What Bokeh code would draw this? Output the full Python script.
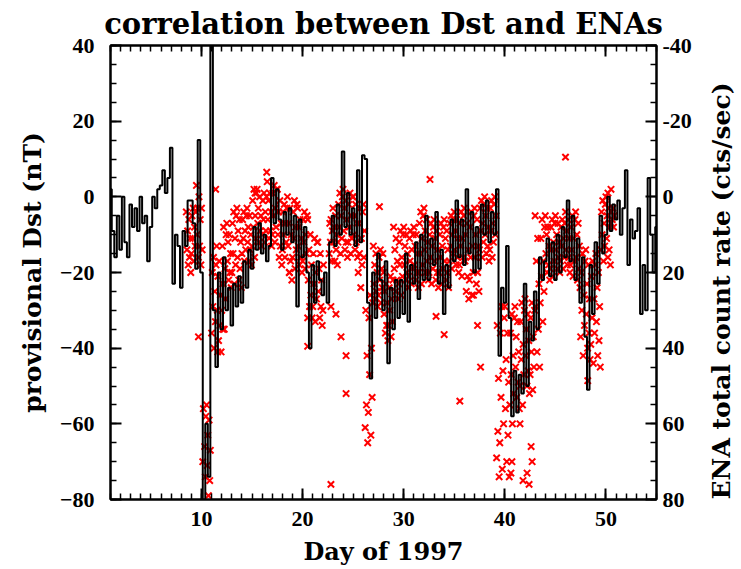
import math
from bokeh.plotting import figure
from bokeh.models import Range1d, LinearAxis, SingleIntervalTicker
from bokeh.embed import file_html
from bokeh.resources import INLINE

# provisional Dst (nT), sampled every 0.25 day starting at day 1.0
dst_start = 1.0
dst_step = 0.25
dst = [
    2, -9, -16, -5,
    -14, 0, -12, -16,
    -2, -8, -3, -9,
    0, -7, -5, -17,
    -8, 0, -3, 2,
    3, 7, 1, 5,
    13, -23, -10, -13,
    -24, -9, -13, -1,
    -1, -7, -19, 15,
    -20, -82, -60, -74,
    45, -30, -45, -20,
    -35, -16, -30, -24,
    -34, -23, -29, -21,
    -28, -17, -24, -14,
    -19, -8, -14, -7,
    -15, -10, -17, -13,
    5, -7, 2, -6,
    -14, -4, -10, -3,
    -12, -5, -29, -6,
    -16, -8, -20, -40,
    -18, -28, -17, -22,
    -26, -20, -28, -12,
    -5, -13, -2, -10,
    12, -8, 1, -10,
    -3, -13, 7, -12,
    11, 10, -28, -48,
    -20, -32, -15, -22,
    -30, -17, -44, -24,
    -35, -22, -32, -22,
    -31, -15, -33, -18,
    -23, -12, -27, -10,
    -22, -5, -22, -11,
    -18, -4, -23, -14,
    -31, -18, -24, -6,
    -17, -1, -16, -6,
    -18, 2, -15, -4,
    -20, -8, -19, -2,
    -10, -1, -12, -4,
    -10, 2, -42, -24,
    -28, -13, -32, -58,
    -46, -57, -47, -52,
    -23, -50, -33, -38,
    -25, -35, -16, -22,
    -17, -11, -21, -12,
    -22, -10, -20, -8,
    -16, -1, -17, -5,
    -22, -11, -28, -16,
    -37, -51, -18, -31,
    -12, -23, -5, -15,
    -10, 0, -9, -2,
    -6, -1, -10, -3,
    7, -18, -6, -11,
    -9, -3, -31, -18,
    -30, 5, -10, -20,
    -8,
]
dst_day = [dst_start + dst_step * i for i in range(len(dst))]

# ENA total count rate (cts/sec), sampled every 1/16 day starting at day 8.5
nan = float("nan")
ena_start = 8.5
ena_step = 0.0625
ena = [
    4, 14, 9, 18, 6, 16, 11, 20,                 # 8.5
    15, 5, 11, 3, 17, 8, 13, 4,                  # 9.0
    -3, 10, 3, 16, 0, 13, 6, 18,                 # 9.5
    3, 14, 70, 56, 81, 66, 74, 58,               # 10.0
    55, 71, 63, 79, 59, 75, 67, 82,              # 10.5
    36, 20, 29, 16, 40, 25, 33, 18,              # 11.0
    13, 30, 21, 38, 17, 34, 26, 41,              # 11.5
    30, 13, 23, 8, 35, 19, 27, 10,               # 12.0
    7, 17, 12, 22, 10, 20, 15, 24,               # 12.5
    20, 7, 15, 4, 23, 11, 18, 5,                 # 13.0
    3, 16, 9, 22, 6, 19, 12, 24,                 # 13.5
    15, 6, 11, 4, 17, 9, 14, 5,                  # 14.0
    3, 12, 8, 17, 5, 14, 10, 18,                 # 14.5
    13, 1, 8, -2, 16, 5, 11, -1,                 # 15.0
    -2, 7, 3, 12, 0, 9, 5, 13,                   # 15.5
    10, 1, 6, -1, 12, 4, 9, 0,                   # 16.0
    -4, 6, 1, 11, -1, 9, 4, 13,                  # 16.5
    10, -1, 5, -3, 12, 3, 8, -2,                 # 17.0
    -2, 10, 4, 16, 1, 13, 7, 18,                 # 17.5
    14, 4, 10, 2, 16, 7, 12, 3,                  # 18.0
    0, 13, 7, 20, 3, 17, 10, 22,                 # 18.5
    16, 4, 11, 1, 19, 8, 14, 2,                  # 19.0
    3, 13, 8, 18, 6, 16, 11, 20,                 # 19.5
    17, 6, 12, 4, 19, 10, 15, 5,                 # 20.0
    6, 22, 14, 29, 10, 26, 18, 32,               # 20.5
    29, 15, 23, 11, 33, 20, 27, 12,              # 21.0
    12, 25, 19, 32, 15, 29, 22, 34,              # 21.5
    30, 18, nan, nan, nan, nan, nan, nan,        # 22.0
    nan, nan, 15, 7, 12, 6, 17, 9,               # 22.5
    3, 12, 8, 17, 5, 14, 10, 18,                 # 23.0
    12, 2, 8, -1, 15, 5, 11, 0,                  # 23.5
    -2, 9, 3, 14, 1, 12, 6, 16,                  # 24.0
    12, 2, 8, -1, 15, 5, 11, 0,                  # 24.5
    0, 10, 5, 14, 2, 12, 7, 16,                  # 25.0
    20, 7, 15, 3, 24, 11, 18, 4,                 # 25.5
    2, 16, 9, 61, 30, 55, 42, 65,                # 26.0
    57, 32, 47, 26, 63, 40, 53, 28,              # 26.5
    13, 23, 18, 27, 15, 25, 20, 29,              # 27.0
    26, 16, 22, 14, 28, 19, 24, 15,              # 27.5
    20, 31, 25, 36, 23, 34, 28, 38,              # 28.0
    34, 24, 30, 21, 37, 27, 33, 22,              # 28.5
    8, 19, 14, 25, 11, 22, 17, 27,               # 29.0
    23, 12, 18, 9, 26, 16, 21, 10,               # 29.5
    8, 18, 13, 22, 10, 20, 15, 24,               # 30.0
    21, 11, 17, 9, 23, 14, 19, 10,               # 30.5
    8, 18, 13, 22, 10, 20, 15, 24,               # 31.0
    20, 7, 15, 4, 23, 11, 18, 5,                 # 31.5
    3, 14, 9, 20, 6, 17, 12, 22,                 # 32.0
    20, 10, 16, 7, 23, 13, 19, 8,                # 32.5
    6, 17, 11, 22, 9, 20, 14, 24,                # 33.0
    20, 10, 16, 7, 23, 13, 19, 8,                # 33.5
    6, 17, 11, 22, 9, 20, 14, 24,                # 34.0
    17, 7, 13, 5, 19, 10, 15, 6,                 # 34.5
    4, 14, 9, 18, 6, 16, 11, 20,                 # 35.0
    18, 7, 13, 4, 21, 11, 16, 5,                 # 35.5
    3, 17, 10, 25, 7, 21, 14, 27,                # 36.0
    22, 8, 16, 4, 26, 13, 20, 5,                 # 36.5
    3, 16, 10, 23, 6, 20, 13, 25,                # 37.0
    14, 3, 9, 1, 16, 7, 12, 2,                   # 37.5
    0, 10, 5, 15, 3, 13, 8, 17,                  # 38.0
    14, 3, 9, 1, 16, 7, 12, 2,                   # 38.5
    0, 10, 5, 69, 34, 62, 48, 74,                # 39.0
    65, 36, 53, 29, 72, 46, 60, 32,              # 39.5
    29, 56, 43, 70, 36, 63, 49, 74,              # 40.0
    55, 36, 47, 31, 60, 42, 52, 32,              # 40.5
    29, 45, 37, 53, 33, 49, 41, 56,              # 41.0
    50, 33, 43, 28, 55, 39, 47, 30,              # 41.5
    27, 42, 35, 50, 31, 46, 38, 52,              # 42.0
    47, 32, 41, 28, 51, 37, 45, 30,              # 42.5
    5, 29, 17, 41, 11, 35, 23, 45,               # 43.0
    28, 11, 21, 6, 33, 17, 25, 8,                # 43.5
    5, 15, 10, 20, 8, 18, 13, 22,                # 44.0
    19, 8, 14, 6, 21, 12, 17, 7,                 # 44.5
    5, 14, 10, 19, 7, 16, 12, 20,                # 45.0
    17, 8, 13, 6, 19, 11, 16, 7,                 # 45.5
    4, 14, 9, 18, 6, 16, 11, 20,                 # 46.0
    18, 8, 14, 5, 21, 11, 17, 6,                 # 46.5
    4, 16, 10, 22, 7, 19, 13, 24,                # 47.0
    37, 20, 30, 15, 42, 26, 34, 17,              # 47.5
    14, 31, 23, 40, 18, 36, 27, 43,              # 48.0
    39, 21, 32, 17, 44, 27, 36, 18,              # 48.5
    15, 33, 24, 42, 20, 38, 29, 45,              # 49.0
    14, 4, 10, 1, 17, 7, 13, 2,                  # 49.5
    0, 11, 5, 16, 3, 14, 8, 18,                  # 50.0
    7, 4, 6, 3, 8, 5, nan, nan,                  # 50.5
]
ena_day = [ena_start + ena_step * i for i in range(len(ena))]

# isolated ENA samples (day, cts/sec)
ena_extra_day = [9.7, 11.4, 11.6, 12.1, 15.3, 16.45, 18.7,
                 20.5, 20.5, 22.8, 22.8, 23.3, 23.8, 24.3, 24.3,
                 27.6, 32.6, 33.2, 34.0, 35.55, 36.9, 37.3, 37.6,
                 40.6, 40.7, 41.8, 42.2, 42.4, 42.6, 42.7, 41.5,
                 46.0, 48.2, 50.2, 50.5]
ena_extra_rate = [37, -2, 41, 35, -1, -6.5, 20,
                  32, 39.5, 29, 76, 31, 37, 42, 52,
                  2.6, -4.6, 31.6, 36.4, 54, 26, 34, 45,
                  73, 70, 75, 73, 76, 66, 70, 60,
                  -10.5, 48.6, -1, -2]

# right-hand axis: ENA count-rate tick labels, at Dst positions (scale is ENA = -Dst)
ena_tick_at_dst = [40, 20, 0, -20, -40, -60, -80]
ena_tick_labels = ["-40", "-20", "0", "20", "40", "60", "80"]

x_tick_interval = 10
y_tick_interval = 20

p = figure(frame_width=546, frame_height=454,
           x_range=Range1d(1, 55), y_range=Range1d(-80, 40),
           x_axis_type=None, y_axis_type=None,
           output_backend="svg", toolbar_location=None,
           min_border_left=110, min_border_right=84,
           min_border_top=45, min_border_bottom=62)
p.extra_y_ranges = {"ena": Range1d(start=80, end=-40)}
p.background_fill_color = "white"
p.border_fill_color = "white"
p.outline_line_color = "black"
p.outline_line_width = 2

p.title.text = "correlation between Dst and ENAs"
p.title.align = "center"
p.title.text_font = "DejaVu Serif"
p.title.text_font_style = "bold"
p.title.text_font_size = "29px"
p.title.text_color = "black"
p.title.offset = 0
p.title.standoff = 9

TICK_FONT = "Liberation Serif"
LABEL_FONT = "DejaVu Serif"


def style_axis(ax, show_labels=True, label_size="24px"):
    ax.axis_line_color = "black"
    ax.axis_line_width = 2
    ax.major_tick_in = 11
    ax.major_tick_out = 0
    ax.minor_tick_in = 6
    ax.minor_tick_out = 0
    ax.major_tick_line_color = "black"
    ax.minor_tick_line_color = "black"
    ax.major_tick_line_width = 2
    ax.minor_tick_line_width = 1.5
    ax.major_label_text_font = TICK_FONT
    ax.major_label_text_font_style = "bold"
    if show_labels:
        ax.major_label_text_color = "black"
        ax.major_label_text_font_size = "22px"
    else:
        ax.major_label_text_color = None
        ax.major_label_text_font_size = "1px"
    ax.axis_label_text_font = LABEL_FONT
    ax.axis_label_text_font_style = "bold"
    ax.axis_label_text_color = "black"
    ax.axis_label_text_font_size = label_size


bottom = LinearAxis(ticker=SingleIntervalTicker(interval=x_tick_interval, num_minor_ticks=10),
                    axis_label="Day of 1997")
style_axis(bottom, label_size="24px")
bottom.major_label_standoff = 12
bottom.axis_label_standoff = 8
p.add_layout(bottom, "below")

top = LinearAxis(ticker=SingleIntervalTicker(interval=x_tick_interval, num_minor_ticks=10))
style_axis(top, show_labels=False)
top.major_label_standoff = 0
p.add_layout(top, "above")

left = LinearAxis(ticker=SingleIntervalTicker(interval=y_tick_interval, num_minor_ticks=4),
                  axis_label="provisional Dst (nT)")
style_axis(left, label_size="25px")
left.major_label_standoff = 16
left.axis_label_standoff = 10
p.add_layout(left, "left")

right = LinearAxis(ticker=SingleIntervalTicker(interval=y_tick_interval, num_minor_ticks=4),
                   axis_label="ENA total count rate (cts/sec)")
style_axis(right, label_size="25px")
right.major_label_overrides = dict(zip(ena_tick_at_dst, ena_tick_labels))
right.major_label_standoff = 6
right.axis_label_standoff = 27
if hasattr(right, "axis_label_orientation"):
    right.axis_label_orientation = math.pi / 2
if hasattr(right, "axis_label_align"):
    right.axis_label_align = "start"
p.add_layout(right, "right")

p.scatter(ena_day, ena, marker="x", size=9, line_color="red", line_width=2,
          y_range_name="ena")
p.scatter(ena_extra_day, ena_extra_rate, marker="x", size=9, line_color="red", line_width=2,
          y_range_name="ena")
p.step(dst_day, dst, mode="center", line_color="black", line_width=2)

open("out.html", "w").write(file_html(p, INLINE))
